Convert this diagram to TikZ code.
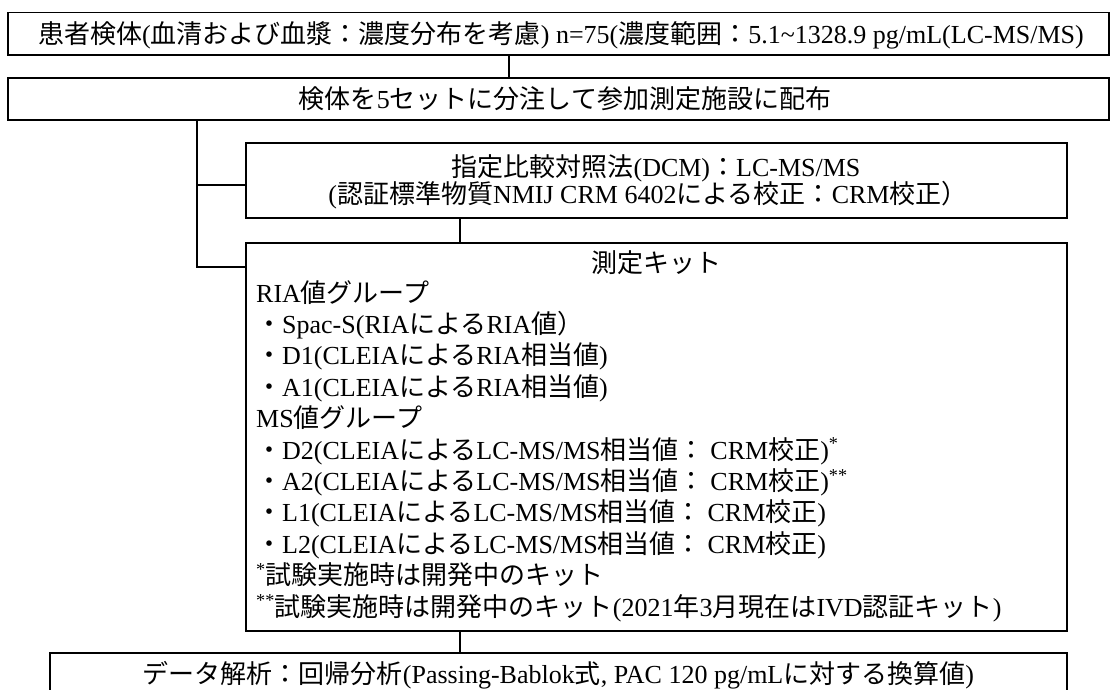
\documentclass[tikz,border=0pt]{standalone}
\usepackage{fontspec}
\setmainfont{Liberation Serif}
\newfontfamily\jpfont{Noto Sans CJK JP}
\newXeTeXintercharclass\JPclass
\newcount\jpcc
\def\setjprange#1#2{\jpcc=#1\relax\loop\XeTeXcharclass\jpcc=\JPclass\advance\jpcc by 1\relax\ifnum\jpcc<#2\relax\repeat}
\setjprange{"3000}{"3100}
\setjprange{"4E00}{"A000}
\setjprange{"FF00}{"FFF0}
\XeTeXinterchartoks 0 \JPclass = {\jpfont}
\XeTeXinterchartoks 4095 \JPclass = {\jpfont}
\XeTeXinterchartoks \JPclass 0 = {\normalfont}
\XeTeXinterchartoks 4095 0 = {\normalfont}
\XeTeXinterchartokenstate=1
\tikzset{
  boxst/.style={draw=black, line width=1.3pt, inner sep=0pt, rectangle},
  txt/.style={inner sep=0pt, font=\fontsize{26}{31.4}\selectfont},
  conn/.style={draw=black, line width=1.3pt},
}
\begin{document}
\begin{tikzpicture}[x=1pt,y=-1pt]
\clip (0,0) rectangle (1115,689);
% boxes
\node[boxst, minimum width=1101pt, minimum height=42.3pt] (top) at (558.5,33.85) {};
\node[boxst, minimum width=1101pt, minimum height=42pt] (dist) at (558.5,99) {};
\node[boxst, minimum width=821pt, minimum height=75pt] (dcm) at (656.5,180.5) {};
\node[boxst, minimum width=821pt, minimum height=388pt] (kit) at (656.5,437) {};
\node[boxst, minimum width=1017pt, minimum height=70pt] (res) at (558.5,688) {};
% texts
\node[txt, anchor=base] (ttop) at (561,43) {患者検体(血清および血漿：濃度分布を考慮) n=75(濃度範囲：5.1\textasciitilde1328.9 pg/mL(LC-MS/MS)};
\node[txt, anchor=base] (tdist) at (565,108) {検体を5セットに分注して参加測定施設に配布};
\node[txt, anchor=base] (tdcma) at (656,176) {指定比較対照法(DCM)：LC-MS/MS};
\node[txt, anchor=base] (tdcmb) at (648,203) {(認証標準物質NMIJ CRM 6402による校正：CRM校正）};
\node[txt, anchor=base] (tkit) at (656.5,272) {測定キット};
\node[txt, anchor=base west] (k0) at (256,302) {RIA値グループ};
\node[txt, anchor=base west] (k1) at (256,333.4) {・Spac-S(RIAによるRIA値）};
\node[txt, anchor=base west] (k2) at (256,364.8) {・D1(CLEIAによるRIA相当値)};
\node[txt, anchor=base west] (k3) at (256,396.2) {・A1(CLEIAによるRIA相当値)};
\node[txt, anchor=base west] (k4) at (256,427.6) {MS値グループ};
\node[txt, anchor=base west] (k5) at (256,459) {・D2(CLEIAによるLC-MS/MS相当値： CRM校正)\textsuperscript{*}};
\node[txt, anchor=base west] (k6) at (256,490.4) {・A2(CLEIAによるLC-MS/MS相当値： CRM校正)\textsuperscript{**}};
\node[txt, anchor=base west] (k7) at (256,521.8) {・L1(CLEIAによるLC-MS/MS相当値： CRM校正)};
\node[txt, anchor=base west] (k8) at (256,553.2) {・L2(CLEIAによるLC-MS/MS相当値： CRM校正)};
\node[txt, anchor=base west] (k9) at (256,584.6) {\textsuperscript{*}試験実施時は開発中のキット};
\node[txt, anchor=base west] (k10) at (256,616) {\textsuperscript{**}試験実施時は開発中のキット(2021年3月現在はIVD認証キット)};
\node[txt, anchor=base] (tres) at (558.5,683) {データ解析：回帰分析(Passing-Bablok式, PAC 120 pg/mLに対する換算値)};
% connector helpers
\coordinate (c1) at (509,0);
\coordinate (tr) at (197,0);
\coordinate (db) at (246,185);
\coordinate (kb) at (246,267);
\coordinate (c2) at (460,0);
% connectors
\draw[conn] (top.south -| c1) -- (dist.north -| c1);
\draw[conn] (dist.south -| tr) |- (kb);
\draw[conn] (tr |- db) -- (db);
\draw[conn] (dcm.south -| c2) -- (kit.north -| c2);
\draw[conn] (kit.south -| c2) -- (res.north -| c2);
\end{tikzpicture}
\end{document}
